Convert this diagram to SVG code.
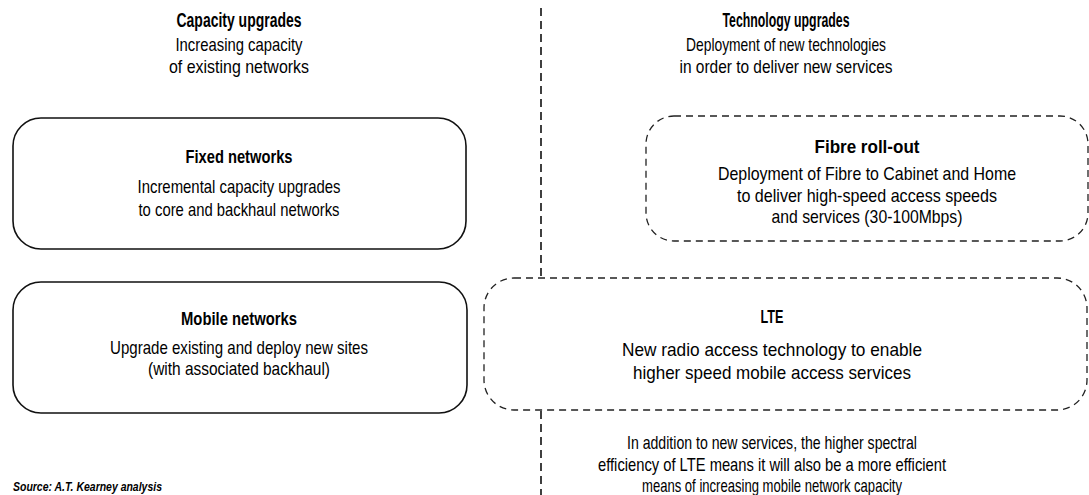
<svg xmlns="http://www.w3.org/2000/svg" width="1089" height="495" viewBox="0 0 1089 495">
<style>
text{font-family:"Liberation Sans",Arial,sans-serif;fill:#000;text-anchor:middle}
.h{font-size:20px;font-weight:bold}
.t{font-size:18.5px;font-weight:bold}
.b{font-size:18.5px}
.solid{fill:none;stroke:#111;stroke-width:1.6}
.dash{fill:none;stroke:#222;stroke-width:1.3;stroke-dasharray:7 5}
.div{fill:none;stroke:#111;stroke-width:1.6;stroke-dasharray:8 5}
.src{font-size:12px;font-style:italic;font-weight:bold;text-anchor:start}
</style>
<rect width="1089" height="495" fill="#fff"/>
<g id="connectors">
<line class="div" x1="541" y1="8" x2="541" y2="278"/>
<line class="div" x1="541" y1="411" x2="541" y2="495"/>
</g>
<g id="capacity-header">
<text class="h" x="239" y="27" textLength="125" lengthAdjust="spacingAndGlyphs">Capacity upgrades</text>
<text class="b" x="239" y="51" textLength="127" lengthAdjust="spacingAndGlyphs">Increasing capacity</text>
<text class="b" x="239" y="73" textLength="140" lengthAdjust="spacingAndGlyphs">of existing networks</text>
</g>
<g id="technology-header">
<text class="h" x="786" y="27" textLength="127" lengthAdjust="spacingAndGlyphs">Technology upgrades</text>
<text class="b" x="786" y="51" textLength="200" lengthAdjust="spacingAndGlyphs">Deployment of new technologies</text>
<text class="b" x="786" y="73" textLength="213" lengthAdjust="spacingAndGlyphs">in order to deliver new services</text>
</g>
<g id="fixed-networks">
<rect class="solid" x="13" y="118" width="453" height="131" rx="28"/>
<text class="t" x="239" y="163" textLength="107" lengthAdjust="spacingAndGlyphs">Fixed networks</text>
<text class="b" x="239" y="193" textLength="203" lengthAdjust="spacingAndGlyphs">Incremental capacity upgrades</text>
<text class="b" x="239" y="216" textLength="201" lengthAdjust="spacingAndGlyphs">to core and backhaul networks</text>
</g>
<g id="mobile-networks">
<rect class="solid" x="13" y="282" width="454" height="131" rx="28"/>
<text class="t" x="239" y="325" textLength="116" lengthAdjust="spacingAndGlyphs">Mobile networks</text>
<text class="b" x="239" y="354" textLength="258" lengthAdjust="spacingAndGlyphs">Upgrade existing and deploy new sites</text>
<text class="b" x="239" y="375" textLength="182" lengthAdjust="spacingAndGlyphs">(with associated backhaul)</text>
</g>
<g id="fibre-rollout">
<rect class="dash" x="646" y="116" width="442" height="125" rx="28"/>
<text class="t" x="867" y="153" textLength="105" lengthAdjust="spacingAndGlyphs">Fibre roll-out</text>
<text class="b" x="867" y="180" textLength="298" lengthAdjust="spacingAndGlyphs">Deployment of Fibre to Cabinet and Home</text>
<text class="b" x="867" y="202" textLength="260" lengthAdjust="spacingAndGlyphs">to deliver high-speed access speeds</text>
<text class="b" x="867" y="223" textLength="191" lengthAdjust="spacingAndGlyphs">and services (30-100Mbps)</text>
</g>
<g id="lte">
<rect class="dash" x="484" y="278" width="603" height="132" rx="30"/>
<text class="t" x="772" y="323" textLength="23" lengthAdjust="spacingAndGlyphs">LTE</text>
<text class="b" x="772" y="356" textLength="300" lengthAdjust="spacingAndGlyphs">New radio access technology to enable</text>
<text class="b" x="772" y="379" textLength="278" lengthAdjust="spacingAndGlyphs">higher speed mobile access services</text>
</g>
<g id="lte-note">
<text class="b" x="772" y="449" textLength="290" lengthAdjust="spacingAndGlyphs">In addition to new services, the higher spectral</text>
<text class="b" x="772" y="471" textLength="348" lengthAdjust="spacingAndGlyphs">efficiency of LTE means it will also be a more efficient</text>
<text class="b" x="772" y="492" textLength="260" lengthAdjust="spacingAndGlyphs">means of increasing mobile network capacity</text>
</g>
<g id="source">
<text class="src" x="13" y="491" textLength="149" lengthAdjust="spacingAndGlyphs">Source: A.T. Kearney analysis</text>
</g>
</svg>
